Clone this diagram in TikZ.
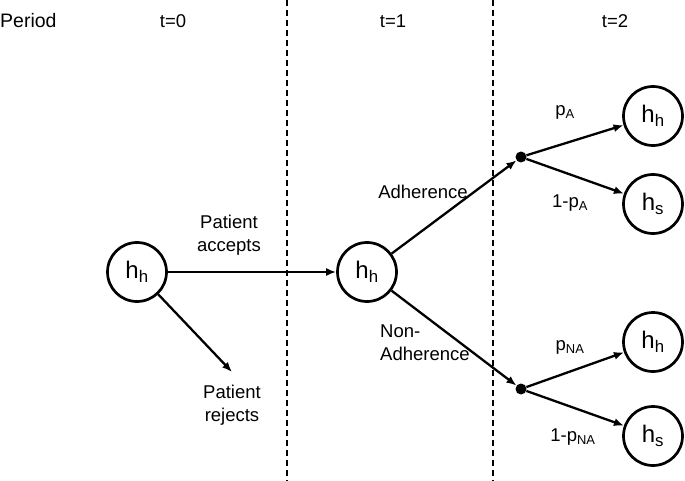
\documentclass[tikz,border=0pt]{standalone}
\usepackage{fontspec}
\setmainfont{Liberation Sans}
\usetikzlibrary{positioning,arrows.meta}
\tikzset{state/.style={draw,circle,line width=2.7pt,minimum size=59pt,inner sep=0pt,font=\fontsize{24}{26}\selectfont},chance/.style={circle,fill,inner sep=0pt,minimum size=11pt},lbl/.style={font=\fontsize{18.5}{23}\selectfont,align=center,inner sep=1pt},period/.style={dash pattern=on 6pt off 4pt,line width=1.5pt},link/.style={draw,-{Latex[length=10pt,width=8pt]},line width=2.3pt}}

\begin{document}
\begin{tikzpicture}[x=1pt,y=-1pt]
\useasboundingbox (0,0) rectangle (685,481);
\node[lbl,anchor=base west,font=\fontsize{19.5}{23}\selectfont] (per) at (-1,28) {Period};
\node[lbl,anchor=base] (t0) at (173,28) {t=0};
\node[lbl,anchor=base] (t1) at (393,28) {t=1};
\node[lbl,anchor=base] (t2) at (615,28) {t=2};
\coordinate (s1a) at (287,0); \coordinate (s1b) at (287,481);
\coordinate (s2a) at (493,0); \coordinate (s2b) at (493,481);
\draw[period] (s1a)--(s1b);
\draw[period] (s2a)--(s2b);
\node[state] (h0) at (137,272) {h\textsubscript{h}};
\node[state] (h1) at (367,272) {h\textsubscript{h}};
\node[chance] (dA) at (521,157) {};
\node[chance] (dN) at (521,389) {};
\node[state] (aH) at (653,116) {h\textsubscript{h}};
\node[state] (aS) at (653,204) {h\textsubscript{s}};
\node[state] (nH) at (653,342) {h\textsubscript{h}};
\node[state] (nS) at (653,436) {h\textsubscript{s}};
\coordinate (rej) at (232,372);
\node[lbl] (acc) at (229,235) {Patient\\accepts};
\node[lbl,below=12pt of rej] (rejl) {Patient\\rejects};
\node[lbl] (adh) at (423,192) {Adherence};
\node[lbl,align=left,anchor=west] (nadh) at (379,343) {Non-\\Adherence};
\node[lbl] (pA) at (565,112) {p\textsubscript{A}};
\node[lbl] (qA) at (570,203) {1-p\textsubscript{A}};
\node[lbl] (pN) at (570,347) {p\textsubscript{NA}};
\node[lbl] (qN) at (573,437) {1-p\textsubscript{NA}};
\draw[link] (h0)--(h1);
\draw[link] (h0)--(rej);
\foreach \x in {dA,dN}\draw[link] (h1)--(\x);
\foreach \x in {aH,aS}\draw[link] (dA)--(\x);
\foreach \x in {nH,nS}\draw[link] (dN)--(\x);
\end{tikzpicture}
\end{document}
